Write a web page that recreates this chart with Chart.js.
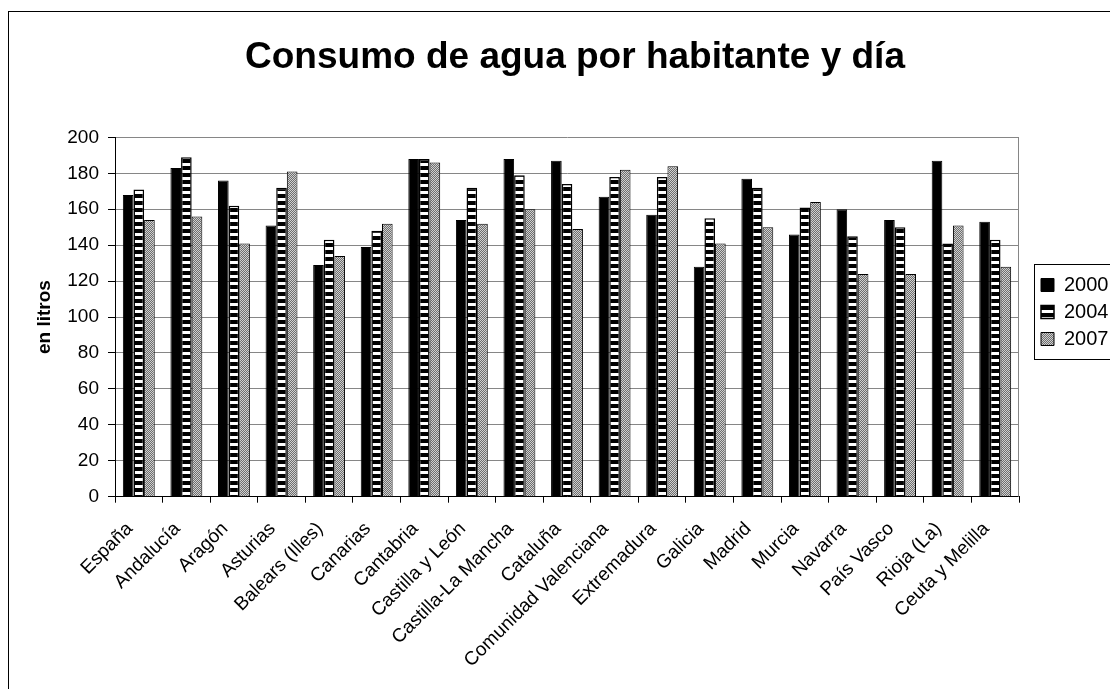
<!DOCTYPE html>
<html><head><meta charset="utf-8">
<script src="https://cdn.jsdelivr.net/npm/chart.js@4"></script>
<style>
html,body{margin:0;padding:0;background:#fff;overflow:hidden;width:1110px;height:689px;}
#frame{position:absolute;left:8px;top:11px;width:1132px;height:720px;border:1px solid #000;background:#fff;}
canvas{display:block;}
</style></head><body>
<div id="frame"><canvas id="c" width="1132" height="720"></canvas></div>
<script>
const categories = ['España','Andalucía','Aragón','Asturias','Balears (Illes)','Canarias','Cantabria','Castilla y León','Castilla-La Mancha','Cataluña','Comunidad Valenciana','Extremadura','Galicia','Madrid','Murcia','Navarra','País Vasco','Rioja (La)','Ceuta y Melilla'];
const seriesNames = ['2000','2004','2007'];
const values2000 = [168,183,176,151,129,139,188,154,188,187,167,157,128,177,146,160,154,187,153];
const values2004 = [171,189,162,172,143,148,188,172,179,174,178,178,155,172,161,145,150,141,143];
const values2007 = [154,156,141,181,134,152,186,152,160,149,182,184,141,150,164,124,124,151,128];
const yMin = 0, yMax = 200, yStep = 20;
const titleText = 'Consumo de agua por habitante y día';
const yTitle = 'en litros';

const FONT = "'Liberation Sans', Arial, sans-serif";

function makePattern(w, h, draw) {
  const c = document.createElement('canvas');
  c.width = w; c.height = h;
  const x = c.getContext('2d');
  draw(x);
  return x.createPattern(c, 'repeat');
}
const stripes = makePattern(1, 7, (x) => {
  x.fillStyle = '#000'; x.fillRect(0, 0, 1, 4);
  x.fillStyle = '#fff'; x.fillRect(0, 4, 1, 3);
});
const dots = makePattern(2, 2, (x) => {
  x.fillStyle = '#d0d0d0'; x.fillRect(0, 0, 2, 2);
  x.fillStyle = '#6e6e6e'; x.fillRect(0, 0, 1, 1); x.fillRect(1, 1, 1, 1);
});

const layoutPlugin = {
  id: 'layoutTweaks',
  afterLayout(chart) {
    const lg = chart.legend;
    if (lg) {
      const w = lg.right - lg.left;
      lg.left = chart.chartArea.right + 15;
      lg.right = lg.left + w;
      lg.top -= 60; lg.bottom -= 60;
    }
    const t = chart.titleBlock;
    if (t) {
      const half = (t.right - t.left) / 2;
      t.left = 566 - half; t.right = 566 + half;
    }
  },
  beforeDatasetsDraw(chart) {
    const {ctx, chartArea} = chart;
    ctx.save();
    ctx.strokeStyle = '#868686';
    ctx.lineWidth = 1;
    ctx.beginPath();
    ctx.moveTo(Math.round(chartArea.right) - 0.5, chartArea.top);
    ctx.lineTo(Math.round(chartArea.right) - 0.5, chartArea.bottom);
    ctx.stroke();
    ctx.restore();
  },
  afterDraw(chart) {
    const hb = chart.legend && chart.legend.legendHitBoxes;
    if (!hb || !hb.length) return;
    const ctx = chart.ctx;
    const first = hb[0], last = hb[hb.length - 1];
    const l = Math.round(first.left - 7) + 0.5;
    const t = Math.round(first.top - 11) + 0.5;
    const b = Math.round(last.top + last.height + 10) + 0.5;
    ctx.save();
    ctx.strokeStyle = '#000';
    ctx.lineWidth = 1;
    ctx.strokeRect(l, t, 95, b - t);
    ctx.restore();
  }
};

const chart = new Chart(document.getElementById('c'), {
  type: 'bar',
  data: {
    labels: categories,
    datasets: [
      { label: seriesNames[0], data: values2000, backgroundColor: '#000', borderColor: '#000', borderWidth: 1 },
      { label: seriesNames[1], data: values2004, backgroundColor: stripes, borderColor: '#000', borderWidth: 1.5 },
      { label: seriesNames[2], data: values2007, backgroundColor: dots, borderColor: '#000', borderWidth: 1 }
    ]
  },
  options: {
    responsive: false,
    devicePixelRatio: 1,
    animation: false,
    layout: { padding: { left: 0, right: 40, top: 0, bottom: 0 } },
    datasets: { bar: { categoryPercentage: 0.67, barPercentage: 1.0 } },
    plugins: {
      tooltip: { enabled: false },
      title: {
        display: true, text: titleText, color: '#000', fullSize: false,
        font: { family: FONT, size: 37, weight: 'bold', lineHeight: 1.2 },
        padding: { top: 24, bottom: 57 }
      },
      legend: {
        position: 'right',
        labels: {
          color: '#000', boxWidth: 13, boxHeight: 13, padding: 7,
          font: { family: FONT, size: 20 }
        }
      }
    },
    scales: {
      x: {
        grid: { display: true, drawOnChartArea: false, drawTicks: true, tickLength: 6, color: '#000', offset: true },
        border: { color: '#000', width: 1 },
        ticks: { color: '#000', autoSkip: false, maxRotation: 45, minRotation: 45, padding: 15, labelOffset: -9,
                 font: { family: FONT, size: 19 } },
        afterFit(s) { s.height = 235.3; }
      },
      y: {
        min: yMin, max: yMax,
        grid: { color: '#868686', tickColor: '#000', tickLength: 7, lineWidth: 1 },
        border: { color: '#000', width: 1 },
        ticks: { color: '#000', stepSize: yStep, padding: 9, font: { family: FONT, size: 19 } },
        title: { display: true, text: yTitle, color: '#000', padding: { top: 24, bottom: 0 },
                 font: { family: FONT, size: 19, weight: 'bold' } },
        afterFit(s) { s.width = 106; }
      }
    }
  },
  plugins: [layoutPlugin]
});
const d = chart.chartArea.right - 1010;
chart.options.layout.padding.right += d;
chart.update();
</script>
</body></html>
